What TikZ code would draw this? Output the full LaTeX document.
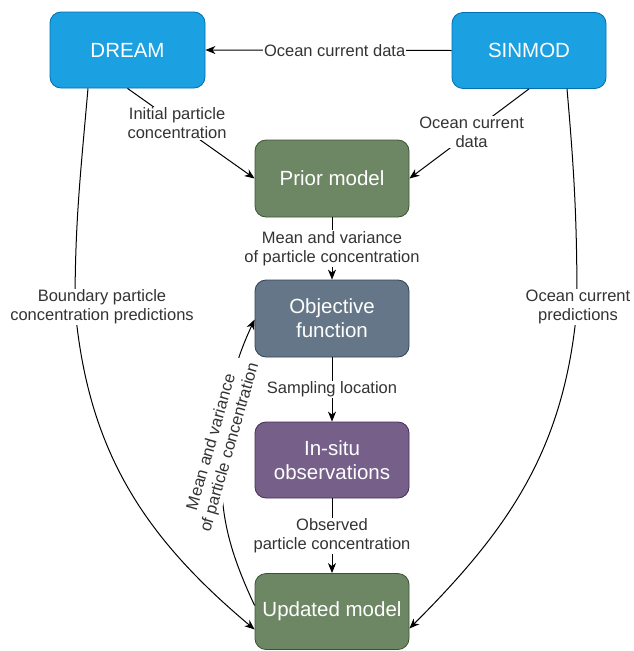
\documentclass[tikz,border=0pt]{standalone}
\usepackage{fontspec}
\setmainfont{Liberation Sans}
\usetikzlibrary{arrows.meta,calc}
\definecolor{bluef}{HTML}{1BA1E2}
\definecolor{blued}{HTML}{006EAF}
\definecolor{greenf}{HTML}{6D8764}
\definecolor{greend}{HTML}{3A5431}
\definecolor{slatef}{HTML}{647687}
\definecolor{slated}{HTML}{314354}
\definecolor{purplef}{HTML}{76608A}
\definecolor{purpled}{HTML}{432D57}
\definecolor{labelc}{HTML}{333333}
\begin{document}
\begin{tikzpicture}[x=1pt,y=1pt,
  box/.style={rectangle, rounded corners=11pt, minimum width=154pt, minimum height=76pt, line width=0.8pt, text=white, font=\fontsize{20.5}{24}\selectfont, align=center, inner sep=0pt},
  lbl/.style={fill=white, text=labelc, font=\fontsize{16.5}{19}\selectfont, align=center, inner sep=1pt},
  conn/.style={line width=1pt, draw=black},
  arr/.style={conn, -{Stealth[length=10pt,width=8pt,inset=3pt]}}
]
\useasboundingbox (0,0) rectangle (633,-651);
\node[box, fill=bluef, draw=blued, minimum width=155pt] (D) at (127.5,-50) {DREAM};
\node[box, fill=bluef, draw=blued] (S) at (529,-50.5) {SINMOD};
\node[box, fill=greenf, draw=greend, minimum height=77pt] (P) at (332,-178.5) {Prior model};
\node[box, fill=slatef, draw=slated, minimum height=77pt] (O) at (332,-318.5) {Objective\\function};
\node[box, fill=purplef, draw=purpled] (I) at (332,-460) {In-situ\\observations};
\node[box, fill=greenf, draw=greend] (U) at (332,-611.5) {Updated model};

\draw[arr] (S.west) -- node[lbl, pos=0.475]{Ocean current data} (D.east);
\draw[arr] (D.south) -- node[lbl,pos=0.39]{Initial particle\\concentration} (P.west);
\draw[arr] (S.south) -- node[lbl,pos=0.48]{Ocean current\\data} (P.east);
\draw[arr] (P.south) -- node[lbl]{Mean and variance\\of particle concentration} (O.north);
\draw[arr] (O.south) -- node[lbl]{Sampling location} (I.north);
\draw[arr] (I.south) -- node[lbl]{Observed\\particle concentration} (U.north);

\coordinate (dl) at ($(D.south)+(-39.5,0)$);
\coordinate (bl) at (75,-307);
\coordinate (ul) at ($(U.west)+(0,-18)$);
\draw[arr] (dl) to[out=-95,in=90] (bl) to[out=-85,in=140] (ul);
\node[lbl] (bpl) at (102,-307) {Boundary particle\\concentration predictions};

\coordinate (sr) at ($(S.south)+(38,0)$);
\coordinate (br) at (577,-307);
\coordinate (ur) at ($(U.east)+(0,-17)$);
\draw[arr] (sr) to[out=-85,in=90] (br) to[out=-95,in=45] (ur);
\node[lbl] (ocp) at (578,-307) {Ocean current\\predictions};

\coordinate (us) at ($(U.west)+(0,6)$);
\coordinate (ml) at (223,-445);
\coordinate (ot) at ($(O.west)+(0,-1)$);
\draw[arr] (us) to[out=115,in=-95] (ml) to[out=85,in=-115] (ot);
\node[lbl, rotate=74] (mvl) at (221,-445) {Mean and variance\\of particle concentration};
\end{tikzpicture}
\end{document}
